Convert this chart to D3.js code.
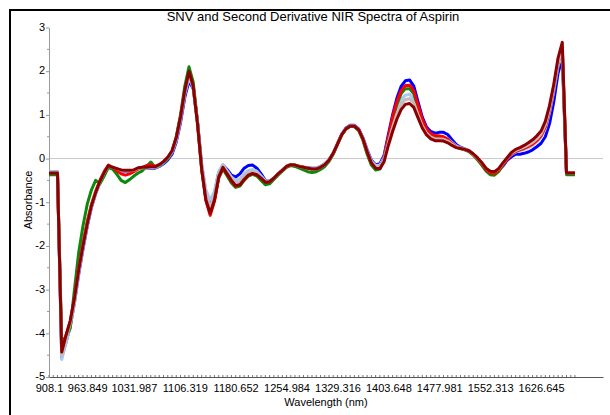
<!DOCTYPE html>
<html>
<head>
<meta charset="utf-8">
<script src="https://cdn.jsdelivr.net/npm/d3@7"></script>
<style>
	body { margin: 0; background: #fff; }
	text { font-family: "Liberation Sans", Arial, sans-serif; }
</style>
</head>
<body>
<svg id="svg"></svg>
<script>
// instrument grid: 125 points, 908.1 nm upward
const wavelengths = d3.range(125).map(i => +(908.1 + i * 6.19443).toFixed(3));

const xTickLabels = ['908.1', '963.849', '1031.987', '1106.319', '1180.652', '1254.984',
	'1329.316', '1403.648', '1477.981', '1552.313', '1626.645'];
const yTicks = [-5, -4, -3, -2, -1, 0, 1, 2, 3];

const blueSpectrum = [
	-0.31,-0.31,-0.31,-4.55,-4.2,-3.85,-3.3,-2.65,-2.08,-1.56,
	-1.12,-0.8,-0.55,-0.34,-0.2,-0.22,-0.24,-0.28,-0.29,-0.29,
	-0.27,-0.23,-0.22,-0.22,-0.22,-0.22,-0.18,-0.12,-0.03,0.1,
	0.38,0.82,1.4,1.78,1.6,0.85,-0.15,-0.8,-1.05,-0.8,
	-0.32,-0.15,-0.25,-0.38,-0.42,-0.35,-0.22,-0.16,-0.15,-0.22,
	-0.35,-0.5,-0.52,-0.45,-0.35,-0.27,-0.18,-0.14,-0.15,-0.18,
	-0.2,-0.21,-0.22,-0.22,-0.18,-0.12,-0.03,0.12,0.34,0.56,
	0.7,0.76,0.76,0.68,0.48,0.2,-0.04,-0.14,-0.12,0.08,
	0.55,1.0,1.38,1.65,1.78,1.8,1.66,1.3,0.95,0.72,
	0.62,0.58,0.6,0.6,0.55,0.43,0.32,0.26,0.22,0.18,
	0.1,0.0,-0.12,-0.25,-0.32,-0.32,-0.27,-0.17,-0.04,0.04,
	0.1,0.1,0.12,0.15,0.2,0.27,0.35,0.5,0.8,1.3,
	1.95,2.3,-0.33,-0.33,-0.33];

const lightBlueSpectrum = [
	-0.3,-0.3,-0.3,-4.6,-4.22,-3.85,-3.3,-2.62,-2.05,-1.53,
	-1.1,-0.8,-0.54,-0.33,-0.18,-0.2,-0.23,-0.27,-0.28,-0.28,
	-0.27,-0.23,-0.22,-0.22,-0.21,-0.21,-0.17,-0.1,0.0,0.14,
	0.42,0.88,1.47,1.85,1.62,0.85,-0.12,-0.72,-0.95,-0.75,
	-0.3,-0.14,-0.28,-0.42,-0.5,-0.46,-0.34,-0.27,-0.25,-0.29,
	-0.4,-0.51,-0.52,-0.45,-0.35,-0.26,-0.17,-0.13,-0.14,-0.17,
	-0.19,-0.21,-0.22,-0.22,-0.18,-0.12,-0.03,0.13,0.34,0.55,
	0.69,0.75,0.75,0.67,0.47,0.18,-0.06,-0.16,-0.15,0.03,
	0.42,0.8,1.12,1.35,1.45,1.47,1.36,1.08,0.8,0.62,
	0.53,0.49,0.5,0.49,0.45,0.37,0.29,0.25,0.22,0.18,
	0.1,0.01,-0.1,-0.23,-0.3,-0.31,-0.25,-0.13,-0.01,0.09,
	0.15,0.18,0.21,0.25,0.3,0.38,0.49,0.68,1.05,1.55,
	2.12,2.4,-0.33,-0.33,-0.33];

const greenSpectrum = [
	-0.37,-0.37,-0.37,-4.18,-4.08,-3.88,-3.0,-2.15,-1.55,-1.05,
	-0.72,-0.5,-0.58,-0.4,-0.2,-0.24,-0.36,-0.5,-0.55,-0.48,
	-0.4,-0.33,-0.28,-0.18,-0.08,-0.2,-0.16,-0.09,0.0,0.15,
	0.5,1.0,1.65,2.1,1.75,0.85,-0.25,-0.92,-1.2,-0.95,
	-0.45,-0.24,-0.4,-0.56,-0.66,-0.63,-0.5,-0.4,-0.36,-0.4,
	-0.5,-0.6,-0.58,-0.48,-0.38,-0.29,-0.2,-0.16,-0.18,-0.22,
	-0.26,-0.3,-0.32,-0.3,-0.25,-0.18,-0.07,0.1,0.32,0.54,
	0.68,0.74,0.73,0.64,0.42,0.1,-0.15,-0.26,-0.24,-0.02,
	0.45,0.9,1.24,1.48,1.6,1.6,1.48,1.17,0.86,0.65,
	0.55,0.5,0.5,0.48,0.42,0.33,0.26,0.23,0.2,0.16,
	0.08,-0.03,-0.15,-0.28,-0.37,-0.38,-0.3,-0.15,-0.01,0.12,
	0.19,0.23,0.27,0.32,0.38,0.46,0.57,0.77,1.15,1.65,
	2.2,2.52,-0.37,-0.37,-0.37];

const redSpectrum = [
	-0.33,-0.33,-0.33,-4.4,-4.05,-3.72,-3.2,-2.5,-1.95,-1.45,
	-1.05,-0.75,-0.5,-0.3,-0.15,-0.2,-0.28,-0.35,-0.38,-0.35,
	-0.3,-0.24,-0.2,-0.16,-0.14,-0.18,-0.14,-0.07,0.03,0.17,
	0.47,0.93,1.52,1.95,1.66,0.82,-0.25,-0.97,-1.3,-0.98,
	-0.44,-0.21,-0.36,-0.52,-0.63,-0.6,-0.48,-0.38,-0.34,-0.37,
	-0.45,-0.54,-0.53,-0.45,-0.35,-0.27,-0.18,-0.14,-0.15,-0.18,
	-0.2,-0.22,-0.24,-0.24,-0.2,-0.14,-0.04,0.12,0.33,0.54,
	0.68,0.74,0.74,0.66,0.45,0.15,-0.1,-0.21,-0.2,0.0,
	0.48,0.95,1.3,1.55,1.67,1.68,1.55,1.22,0.9,0.68,
	0.57,0.52,0.52,0.5,0.44,0.35,0.27,0.24,0.21,0.17,
	0.09,0.0,-0.12,-0.25,-0.33,-0.34,-0.27,-0.14,-0.02,0.1,
	0.16,0.2,0.23,0.28,0.33,0.41,0.52,0.72,1.1,1.6,
	2.2,2.55,-0.33,-0.33,-0.33];

const graySpectrum = [
	-0.32,-0.32,-0.32,-4.5,-4.12,-3.78,-3.25,-2.58,-2.02,-1.51,
	-1.09,-0.79,-0.53,-0.33,-0.17,-0.2,-0.23,-0.27,-0.28,-0.28,
	-0.27,-0.22,-0.21,-0.21,-0.2,-0.2,-0.15,-0.08,0.02,0.16,
	0.45,0.92,1.5,1.92,1.63,0.82,-0.2,-0.85,-1.1,-0.85,
	-0.36,-0.17,-0.31,-0.46,-0.56,-0.53,-0.41,-0.32,-0.3,-0.33,
	-0.42,-0.52,-0.52,-0.45,-0.35,-0.27,-0.18,-0.14,-0.15,-0.18,
	-0.2,-0.22,-0.24,-0.24,-0.2,-0.14,-0.04,0.12,0.33,0.54,
	0.68,0.74,0.74,0.66,0.45,0.15,-0.08,-0.19,-0.19,-0.02,
	0.36,0.72,1.02,1.24,1.35,1.37,1.27,1.0,0.75,0.58,
	0.49,0.45,0.45,0.44,0.4,0.33,0.27,0.24,0.21,0.18,
	0.1,0.01,-0.1,-0.22,-0.29,-0.3,-0.24,-0.11,0.01,0.12,
	0.18,0.22,0.26,0.31,0.37,0.45,0.56,0.77,1.14,1.62,
	2.2,2.5,-0.33,-0.33,-0.33];

const maroonSpectrum = [
	-0.33,-0.33,-0.33,-4.43,-4.05,-3.72,-3.2,-2.55,-2.0,-1.5,
	-1.08,-0.78,-0.52,-0.32,-0.16,-0.2,-0.23,-0.26,-0.27,-0.27,
	-0.26,-0.21,-0.2,-0.2,-0.19,-0.19,-0.14,-0.07,0.03,0.18,
	0.48,0.95,1.55,2.0,1.65,0.8,-0.25,-0.95,-1.25,-0.95,
	-0.42,-0.2,-0.35,-0.5,-0.62,-0.6,-0.48,-0.38,-0.34,-0.37,
	-0.45,-0.54,-0.53,-0.45,-0.35,-0.27,-0.18,-0.14,-0.15,-0.18,
	-0.2,-0.22,-0.24,-0.24,-0.2,-0.14,-0.04,0.12,0.33,0.54,
	0.68,0.74,0.74,0.66,0.45,0.15,-0.1,-0.22,-0.23,-0.07,
	0.3,0.62,0.9,1.12,1.24,1.26,1.17,0.93,0.7,0.54,
	0.45,0.41,0.41,0.4,0.36,0.3,0.25,0.23,0.21,0.18,
	0.11,0.02,-0.09,-0.22,-0.29,-0.3,-0.23,-0.1,0.02,0.14,
	0.21,0.25,0.3,0.36,0.43,0.52,0.63,0.85,1.22,1.7,
	2.3,2.66,-0.33,-0.33,-0.33];

// drawing order, last on top
const spectra = [
	{ color: '#0000ff', values: blueSpectrum },
	{ color: '#a9c9f0', values: lightBlueSpectrum },
	{ color: '#0a8a0a', values: greenSpectrum },
	{ color: '#ff0000', values: redSpectrum },
	{ color: '#c8b8b8', values: graySpectrum },
	{ color: '#8b0000', values: maroonSpectrum }
];

const width = 610, height = 415;
const plotLeft = 49, plotRight = 603, plotTop = 27.5, plotBottom = 377;

const svg = d3.select('#svg').attr('width', width).attr('height', height);

const x = d3.scaleLinear().domain([908.1, 1717.1]).range([plotLeft, plotRight]);
const y = d3.scaleLinear().domain([-5, 3]).range([plotBottom, plotTop]);

// outer frame (left and top edges only show)
svg.append('path')
	.attr('d', `M10,${height}V10H${width}`)
	.attr('fill', 'none')
	.attr('stroke', '#000')
	.attr('stroke-width', 2);

svg.append('text')
	.attr('x', 313)
	.attr('y', 21)
	.attr('text-anchor', 'middle')
	.style('font-size', '13px')
	.text('SNV and Second Derivative NIR Spectra of Aspirin');

// zero line
svg.append('line')
	.attr('x1', plotLeft).attr('x2', plotRight)
	.attr('y1', y(0)).attr('y2', y(0))
	.attr('stroke', '#c8c8c8');

// y axis
const yAxisG = svg.append('g')
	.attr('transform', `translate(${plotLeft},0)`)
	.call(d3.axisLeft(y).tickValues(yTicks).tickSize(3).tickSizeOuter(0).tickFormat(d => String(d)));
yAxisG.select('.domain').attr('stroke', '#999');
yAxisG.selectAll('.tick line').attr('stroke', '#999');
yAxisG.selectAll('.tick text')
	.attr('fill', '#000')
	.attr('x', -4)
	.attr('dy', '0.25em')
	.style('font-size', '11px');

svg.append('g')
	.selectAll('line')
	.data(yTicks.slice(1).map(v => v - 0.5))
	.enter()
	.append('line')
	.attr('x1', plotLeft - 2).attr('x2', plotLeft)
	.attr('y1', d => y(d)).attr('y2', d => y(d))
	.attr('stroke', '#999');

// x axis with wavelength labels
const xAxisG = svg.append('g')
	.attr('transform', `translate(0,${plotBottom})`)
	.call(d3.axisBottom(x).tickValues(xTickLabels.map(Number)).tickSize(0).tickPadding(7)
		.tickFormat((d, i) => xTickLabels[i]));
xAxisG.select('.domain').attr('stroke', '#555');
xAxisG.selectAll('.tick text').attr('fill', '#000').style('font-size', '11px');

// a small tick at every measured wavelength
svg.append('g')
	.selectAll('line')
	.data(wavelengths)
	.enter()
	.append('line')
	.attr('x1', d => x(d)).attr('x2', d => x(d))
	.attr('y1', plotBottom - 2).attr('y2', plotBottom)
	.attr('stroke', '#777');

svg.append('text')
	.attr('x', 326)
	.attr('y', 406)
	.attr('text-anchor', 'middle')
	.style('font-size', '11px')
	.text('Wavelength (nm)');

svg.append('text')
	.attr('transform', 'translate(32,200) rotate(-90)')
	.attr('text-anchor', 'middle')
	.style('font-size', '11px')
	.text('Absorbance');

// spectra
const line = d3.line()
	.x((d, i) => x(wavelengths[i]))
	.y(d => y(d));

svg.append('g')
	.selectAll('path')
	.data(spectra)
	.enter()
	.append('path')
	.attr('d', s => line(s.values))
	.attr('fill', 'none')
	.attr('stroke', s => s.color)
	.attr('stroke-width', 3)
	.attr('stroke-linejoin', 'round');
</script>
</body>
</html>
